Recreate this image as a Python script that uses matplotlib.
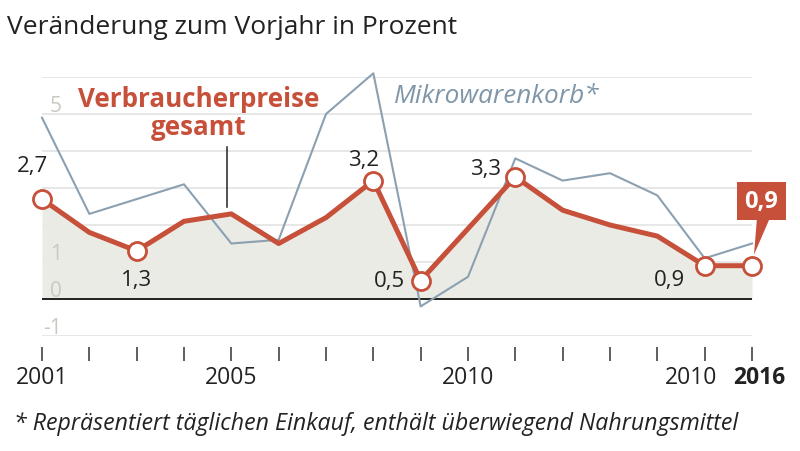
import matplotlib.pyplot as plt
from matplotlib.patches import Polygon
from matplotlib.transforms import Affine2D

plt.rcParams['font.family'] = ['Open Sans', 'DejaVu Sans']

years = list(range(2001, 2017))
vpi = [2.7, 1.8, 1.3, 2.1, 2.3, 1.5, 2.2, 3.2, 0.5, 1.9, 3.3, 2.4, 2.0, 1.7, 0.9, 0.9]
mikro = [4.9, 2.3, 2.7, 3.1, 1.5, 1.6, 5.0, 6.1, -0.2, 0.6, 3.8, 3.2, 3.4, 2.8, 1.1, 1.5]
grid_vals = [-1, 1, 2, 3, 4, 5, 6]
ylabel_vals = [-1, 0, 1, 5]
xlabels = {2001: '2001', 2005: '2005', 2010: '2010', 2015: '2010', 2016: '2016'}
marked = [0, 2, 7, 8, 10, 14]
# label offsets in pixels from the data point
label_off = {0: (-10, 34), 2: (0, -29), 7: (-10, 21), 8: (-31, 0), 10: (-30, 8), 14: (-35, -14)}

red = '#c6503a'
blue = '#8ba0b1'
px = 0.72  # points per pixel at dpi 100

fig = plt.figure(figsize=(8, 4.52), dpi=100)
ax = fig.add_axes([42 / 800, (452 - 337) / 452, 710 / 800, (337 - 78) / 452])
ax.set_xlim(2001, 2016)
ax.set_ylim(-1, 6)
for s in ax.spines.values():
    s.set_visible(False)
ax.set_yticks([])
ax.set_xticks(years)
ax.set_xticklabels([])
ax.spines['bottom'].set_position(('outward', 8))
ax.tick_params(axis='x', direction='out', length=14 * px, width=1.1, color='#333333')

ax.hlines(grid_vals, 2001, 2016, color='#e3e3e3', lw=1.2, zorder=0)
ax.fill_between(years, 0, vpi, color='#ebebe6', lw=0, zorder=1)
ax.axhline(0, color='#111111', lw=1.3, zorder=2)
ax.plot(years, mikro, color=blue, lw=1.5, zorder=3, clip_on=False)
ax.plot(years, vpi, color=red, lw=3.6, zorder=4, solid_joinstyle='round', clip_on=False)
ax.plot([years[i] for i in marked + [15]], [vpi[i] for i in marked + [15]], 'o', ms=13,
        mfc='white', mec=red, mew=2, zorder=5, clip_on=False)

for v in ylabel_vals:
    ax.annotate(str(v), (2001, v), xytext=(20 * px, 3 * px), textcoords='offset points',
                ha='right', va='baseline', fontsize=15, color='#cbc9bf')

for i, (dx, dy) in label_off.items():
    ax.annotate(f'{vpi[i]:.1f}'.replace('.', ','), (years[i], vpi[i]),
                xytext=(dx * px, dy * px), textcoords='offset points',
                ha='center', va='center', fontsize=16, color='#222222')

# x labels
shift = {2015: -14, 2016: 7}
for y, lab in xlabels.items():
    ax.annotate(lab, (y, 0), xycoords=ax.get_xaxis_transform(),
                xytext=(shift.get(y, 0) * px, -41.5 * px), textcoords='offset points',
                ha='center', va='center', fontsize=16.5, color='#222222',
                fontweight='bold' if y == 2016 else 'normal')

ax.text(2004.3, 5.05, 'Verbraucherpreise\ngesamt', ha='center', va='center',
        fontsize=18.7, fontweight='bold', color=red, linespacing=1.05)
ax.plot([2004.91, 2004.91], [2.49, 4.1], color='#222222', lw=1.1, zorder=3)
ax.text(2008.43, 5.5, 'Mikrowarenkorb*', ha='left', va='center', fontsize=18.8,
        style='italic', color='#7f96a9')

# end value box
ax.annotate('0,9', (2016, vpi[-1]), xytext=(9.5 * px, 64.5 * px), textcoords='offset points',
            ha='center', va='center', fontsize=17, fontweight='bold', color='white',
            bbox=dict(boxstyle='square,pad=0.3', fc=red, ec='none'), zorder=6)
fig.canvas.draw()
x0, y0 = ax.transData.transform((2016, vpi[-1]))
tri = Polygon([(5, 48), (18, 48), (2, 11)], closed=True, fc=red, ec='none',
              transform=Affine2D().translate(x0, y0), zorder=6)
fig.add_artist(tri)

fig.text(7 / 800, 1 - 28 / 452, 'Veränderung zum Vorjahr in Prozent', ha='left', va='center',
         fontsize=19, color='#222222')
fig.text(14 / 800, 1 - 424 / 452,
         '* Repräsentiert täglichen Einkauf, enthält überwiegend Nahrungsmittel',
         ha='left', va='center', fontsize=16.7, style='italic', color='#222222')

fig.savefig('out.png', dpi=100)
